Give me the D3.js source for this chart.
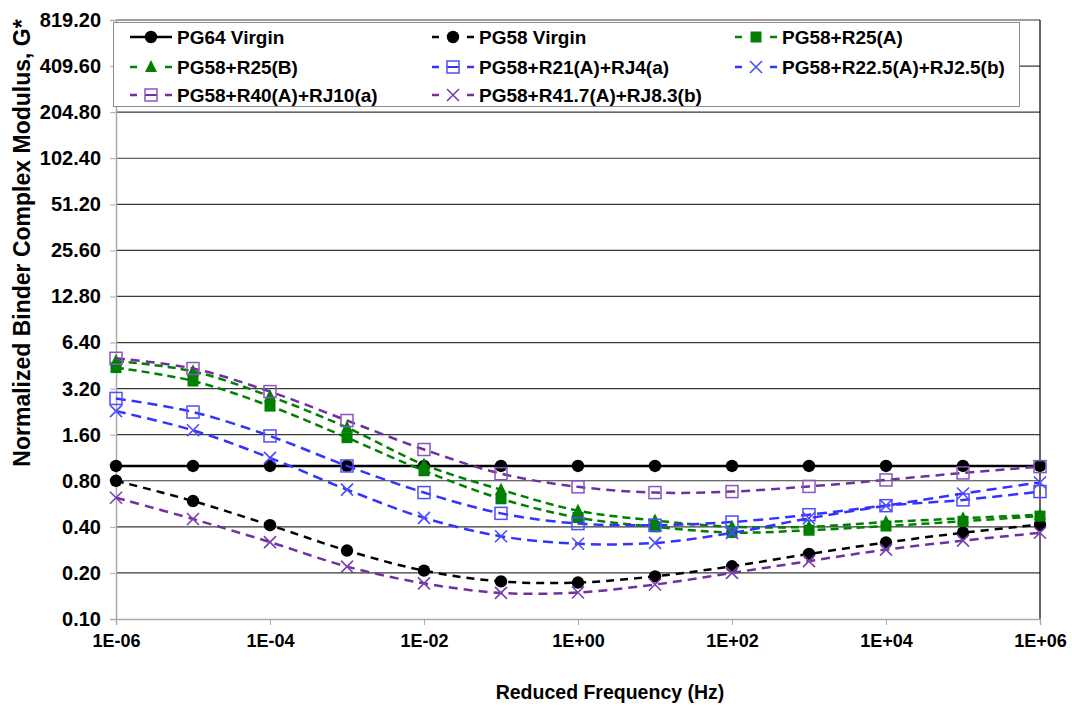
<!DOCTYPE html>
<html>
<head>
<meta charset="utf-8">
<script src="https://cdn.jsdelivr.net/npm/d3@7"></script>
<style>
  html, body { margin: 0; padding: 0; background: #fff; }
  svg { display: block; font-family: "Liberation Sans", Arial, sans-serif; font-weight: bold; }
</style>
</head>
<body>
<svg id="chart" width="1072" height="706"></svg>
<script>
// Reduced frequency (Hz), one point per decade
const freqs = [1e-6, 1e-5, 1e-4, 1e-3, 1e-2, 1e-1, 1e0, 1e1, 1e2, 1e3, 1e4, 1e5, 1e6];

// Normalized binder complex modulus G* for each blend
const pg64Virgin   = [1.00, 1.00, 1.00, 1.00, 1.00, 1.00, 1.00, 1.00, 1.00, 1.00, 1.00, 1.00, 1.00];
const pg58Virgin   = [0.80, 0.59, 0.41, 0.28, 0.207, 0.176, 0.173, 0.19, 0.221, 0.266, 0.316, 0.366, 0.414];
const r25A         = [4.39, 3.59, 2.46, 1.53, 0.93, 0.61, 0.46, 0.40, 0.367, 0.38, 0.405, 0.435, 0.47];
const r25B         = [4.85, 4.15, 2.85, 1.78, 1.02, 0.70, 0.51, 0.44, 0.40, 0.40, 0.43, 0.455, 0.48];
const r21RJ4       = [2.76, 2.25, 1.57, 1.00, 0.67, 0.49, 0.42, 0.41, 0.43, 0.48, 0.55, 0.60, 0.68];
const r225RJ25     = [2.28, 1.71, 1.13, 0.70, 0.458, 0.347, 0.31, 0.314, 0.365, 0.455, 0.55, 0.66, 0.78];
const r40RJ10      = [5.05, 4.33, 3.06, 1.98, 1.28, 0.89, 0.73, 0.67, 0.68, 0.735, 0.81, 0.90, 0.99];
const r417RJ83     = [0.62, 0.45, 0.318, 0.22, 0.171, 0.148, 0.149, 0.168, 0.20, 0.239, 0.284, 0.325, 0.366];

// Axis tick values
const yTicks = [0.1, 0.2, 0.4, 0.8, 1.6, 3.2, 6.4, 12.8, 25.6, 51.2, 102.4, 204.8, 409.6, 819.2];
const xTicks = [1e-6, 1e-4, 1e-2, 1e0, 1e2, 1e4, 1e6];

const GREEN = "#008000", BLUE = "#3333ff", PURPLE = "#7030a0";

const series = [
  { name: "PG64 Virgin", values: pg64Virgin, color: "#000", dash: null, marker: "circle" },
  { name: "PG58 Virgin", values: pg58Virgin, color: "#000", dash: "8,6", marker: "circle" },
  { name: "PG58+R25(A)", values: r25A, color: GREEN, dash: "8,5", marker: "square" },
  { name: "PG58+R25(B)", values: r25B, color: GREEN, dash: "8,5", marker: "triangle" },
  { name: "PG58+R21(A)+RJ4(a)", values: r21RJ4, color: BLUE, mcolor: "#4d4dff", dash: "10,6", marker: "opensquare" },
  { name: "PG58+R22.5(A)+RJ2.5(b)", values: r225RJ25, color: BLUE, mcolor: "#4d4dff", dash: "10,6", marker: "x" },
  { name: "PG58+R40(A)+RJ10(a)", values: r40RJ10, color: PURPLE, mcolor: "#8a55c0", dash: "9,6", marker: "opensquare" },
  { name: "PG58+R41.7(A)+RJ8.3(b)", values: r417RJ83, color: PURPLE, mcolor: "#7a40b0", dash: "9,6", marker: "x" }
];

const svg = d3.select("#chart");
const plot = { left: 116, right: 1040, top: 20, bottom: 619 };

const x = d3.scaleLog().domain([1e-6, 1e6]).range([plot.left, plot.right]);
const y = d3.scaleLog().base(2).domain([0.1, 819.2]).range([plot.bottom, plot.top]);

const fmtX = v => {
  const e = Math.round(Math.log10(v));
  return "1E" + (e < 0 ? "-" : "+") + String(Math.abs(e)).padStart(2, "0");
};

// horizontal gridlines
svg.append("g").selectAll("line").data(yTicks.slice(1)).join("line")
  .attr("x1", plot.left).attr("x2", plot.right)
  .attr("y1", d => y(d)).attr("y2", d => y(d))
  .attr("stroke", "#3a3a3a").attr("stroke-width", 1.2);

// right border of plot area
svg.append("line")
  .attr("x1", plot.right).attr("x2", plot.right)
  .attr("y1", plot.top).attr("y2", plot.bottom)
  .attr("stroke", "#000").attr("stroke-width", 1.2);

// y axis
const yAxis = svg.append("g")
  .attr("transform", `translate(${plot.left},0)`)
  .call(d3.axisLeft(y).tickValues(yTicks).tickFormat(d3.format(".2f")).tickSize(6).tickPadding(9));
yAxis.select(".domain").attr("stroke", "#aaa").attr("stroke-width", 1.5);
yAxis.selectAll(".tick line").attr("stroke", "#aaa");
yAxis.selectAll(".tick text").attr("font-size", 20).attr("font-weight", "bold")
  .attr("font-family", "Liberation Sans, Arial, sans-serif").attr("fill", "#000");

// x axis
const xAxis = svg.append("g")
  .attr("transform", `translate(0,${plot.bottom})`)
  .call(d3.axisBottom(x).tickValues(xTicks).tickFormat(fmtX).tickSize(6).tickPadding(9));
xAxis.select(".domain").attr("stroke", "#aaa").attr("stroke-width", 1.5);
xAxis.selectAll(".tick line").attr("stroke", "#aaa");
xAxis.selectAll(".tick text").attr("font-size", 18).attr("font-weight", "bold")
  .attr("font-family", "Liberation Sans, Arial, sans-serif").attr("fill", "#000");

// axis titles
svg.append("text")
  .attr("x", 610).attr("y", 699)
  .attr("text-anchor", "middle").attr("font-size", 19.5)
  .text("Reduced Frequency (Hz)");
svg.append("text")
  .attr("transform", "translate(30,243) rotate(-90)")
  .attr("text-anchor", "middle").attr("font-size", 23)
  .text("Normalized Binder Complex Modulus, G*");

// marker drawing helper
function drawMarker(g, type, color, cx, cy) {
  if (type === "circle") {
    g.append("circle").attr("cx", cx).attr("cy", cy).attr("r", 6.2).attr("fill", color);
  } else if (type === "square") {
    g.append("rect").attr("x", cx - 5.5).attr("y", cy - 5.5).attr("width", 11).attr("height", 11).attr("fill", color);
  } else if (type === "triangle") {
    g.append("path").attr("d", `M${cx},${cy - 7}L${cx + 6},${cy + 5}L${cx - 6},${cy + 5}Z`).attr("fill", color);
  } else if (type === "opensquare") {
    g.append("rect").attr("x", cx - 6).attr("y", cy - 6).attr("width", 12).attr("height", 12)
      .attr("fill", "none").attr("stroke", color).attr("stroke-width", 1.5);
  } else if (type === "x") {
    g.append("path").attr("d", `M${cx - 6},${cy - 6}L${cx + 6},${cy + 6}M${cx - 6},${cy + 6}L${cx + 6},${cy - 6}`)
      .attr("fill", "none").attr("stroke", color).attr("stroke-width", 1.6);
  }
}

// series lines and markers
const line = d3.line()
  .x((d, i) => x(freqs[i]))
  .y(d => y(d))
  .curve(d3.curveCatmullRom.alpha(0.5));

series.forEach(s => {
  const g = svg.append("g");
  g.append("path")
    .attr("d", line(s.values))
    .attr("fill", "none")
    .attr("stroke", s.color)
    .attr("stroke-width", 2.5)
    .attr("stroke-dasharray", s.dash);
  s.values.forEach((v, i) => drawMarker(g, s.marker, s.mcolor || s.color, x(freqs[i]), y(v)));
});

// legend
const legend = svg.append("g");
legend.append("rect")
  .attr("x", 113.5).attr("y", 22.5).attr("width", 906).attr("height", 84)
  .attr("fill", "#fff").attr("stroke", "#8c8c8c").attr("stroke-width", 1);

const colX = [130, 432, 735];
const rowY = [37, 67, 95];
series.forEach((s, i) => {
  const cx0 = colX[i % 3], cy = rowY[Math.floor(i / 3)];
  const g = legend.append("g");
  if (!s.dash) {
    g.append("line").attr("x1", cx0).attr("x2", cx0 + 42).attr("y1", cy).attr("y2", cy)
      .attr("stroke", s.color).attr("stroke-width", 2.5);
  } else {
    g.append("line").attr("x1", cx0).attr("x2", cx0 + 7).attr("y1", cy).attr("y2", cy)
      .attr("stroke", s.color).attr("stroke-width", 2.5);
    g.append("line").attr("x1", cx0 + 35).attr("x2", cx0 + 42).attr("y1", cy).attr("y2", cy)
      .attr("stroke", s.color).attr("stroke-width", 2.5);
    if (s.marker === "opensquare") {
      g.append("line").attr("x1", cx0 + 15).attr("x2", cx0 + 27).attr("y1", cy).attr("y2", cy)
        .attr("stroke", s.color).attr("stroke-width", 2);
    }
  }
  drawMarker(g, s.marker, s.mcolor || s.color, cx0 + 21, cy);
  g.append("text").attr("x", cx0 + 47).attr("y", cy + 7)
    .attr("font-size", 19).text(s.name);
});
</script>
</body>
</html>
